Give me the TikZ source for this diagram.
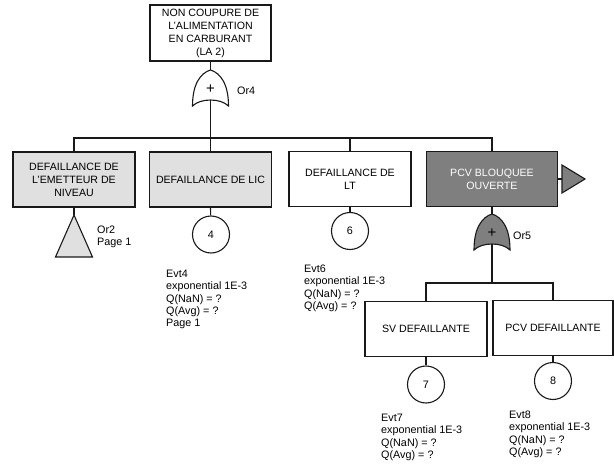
\documentclass[tikz,border=0pt]{standalone}
\usepackage{fontspec}
\setmainfont{Liberation Sans}
\usepackage{xcolor}
\usepackage{tikz}
\usetikzlibrary{positioning, calc}
\definecolor{boxgrey}{HTML}{E0E0E0}
\definecolor{darkgrey}{HTML}{7F7F7F}

\begin{document}
\begin{tikzpicture}[
    x=1pt, y=-1pt,
    font=\fontsize{10.8}{12.2}\selectfont,
    wire/.style={black!90, line width=1.1pt},
    evbox/.style={draw=black!90, line width=1.1pt, fill=white, minimum width=122pt,
                  minimum height=55pt, align=center, font=\fontsize{10.6}{13}\selectfont},
    greybox/.style={evbox, fill=boxgrey},
    darkbox/.style={evbox, fill=darkgrey, text=white},
    basic/.style={draw=black!90, line width=1.1pt, circle, fill=white, minimum size=37pt, inner sep=0pt},
    info/.style={anchor=north west, align=left, inner sep=0pt}
]

% ---------- frame (pixel units, y downwards) ----------
\useasboundingbox (0,0) rectangle (614,471);

% ---------- helper: OR gate, apex at (#2,#3) ----------
\newcommand{\drawor}[4]{
    \begin{scope}[shift={(#2,#3)}]
        \draw[wire, fill=#4] (0,0) .. controls (10,3) and (18,14) .. (18,36)
            .. controls (10,28) and (-10,28) .. (-18,36)
            .. controls (-18,14) and (-10,3) .. cycle;
        \node[font=\fontsize{15}{15}\selectfont, inner sep=0pt] (#1-plus) at (0,19) {+};
        \coordinate (#1-top) at (0,0);
        \coordinate (#1-out) at (0,30);
    \end{scope}
}

% ---------- top event ----------
\node[evbox, minimum width=121pt, minimum height=56pt] (top) at (210.5,33)
    {NON COUPURE DE\\L'ALIMENTATION\\EN CARBURANT\\(LA 2)};
\drawor{g4}{210.5}{70}{white}
\node[anchor=west, inner sep=0pt] (g4-lbl) at (237,91) {Or4};
\draw[wire] (top.south) -- (g4-top);
\coordinate (bar4) at (210.5,138);
\draw[wire] (g4-out) -- (bar4);

% ---------- first level ----------
\node[greybox] (b1) at (74,179.5) {DEFAILLANCE DE\\L'EMETTEUR DE\\NIVEAU};
\node[greybox] (b2) at (210.5,179.5) {DEFAILLANCE DE LIC};
\node[evbox] (b3) at (350,179) {DEFAILLANCE DE\\LT};
\node[darkbox, minimum width=131pt] (b4) at (492,179) {PCV BLOUQUEE\\OUVERTE};

\draw[wire] (b1.north) |- (bar4) -| (b4.north);
\draw[wire] (b2.north) -- (b2.north |- bar4);
\draw[wire] (b3.north) -- (b3.north |- bar4);

% ---------- transfer in: Or2 ----------
\coordinate (or2-top) at (74,215);
\draw[wire] (b1.south) -- (or2-top);
\draw[wire, fill=boxgrey] (or2-top) -- ++(18.5,42) -- ++(-37,0) -- cycle;
\node[info] (or2-lbl) at (97,226) {Or2\\Page 1};

% ---------- basic events 4 and 6 ----------
\node[basic] (e4) at (211,234.5) {4};
\draw[wire] (b2.south) -- (e4);
\node[info] (e4-info) at (166,270) {Evt4\\exponential 1E-3\\Q(NaN) = ?\\Q(Avg) = ?\\Page 1};

\node[basic] (e6) at (350,231) {6};
\draw[wire] (b3.south) -- (e6);
\node[info] (e6-info) at (304,265) {Evt6\\exponential 1E-3\\Q(NaN) = ?\\Q(Avg) = ?};

% ---------- transfer out ----------
\coordinate (tr-base) at (562,179);
\draw[wire] (b4.east) -- (tr-base);
\draw[wire, fill=darkgrey] (tr-base) -- ++(0,-14) -- ++(23,14) -- ++(-23,14) -- cycle;

% ---------- gate Or5 ----------
\drawor{g5}{492}{214}{darkgrey}
\node[anchor=west, inner sep=0pt] (g5-lbl) at (513,236) {Or5};
\draw[wire] (b4.south) -- (g5-top);
\coordinate (bar5) at (492,283);
\draw[wire] (g5-out) -- (bar5);

% ---------- second level ----------
\node[evbox] (b7) at (426,329) {SV DEFAILLANTE};
\node[evbox, minimum width=120pt] (b8) at (553,328) {PCV DEFAILLANTE};
\draw[wire] (b7.north) |- (bar5) -| (b8.north);

\node[basic] (e7) at (426,384.5) {7};
\draw[wire] (b7.south) -- (e7);
\node[info] (e7-info) at (381,414) {Evt7\\exponential 1E-3\\Q(NaN) = ?\\Q(Avg) = ?};

\node[basic] (e8) at (553,381) {8};
\draw[wire] (b8.south) -- (e8);
\node[info] (e8-info) at (509,411) {Evt8\\exponential 1E-3\\Q(NaN) = ?\\Q(Avg) = ?};

\end{tikzpicture}
\end{document}
